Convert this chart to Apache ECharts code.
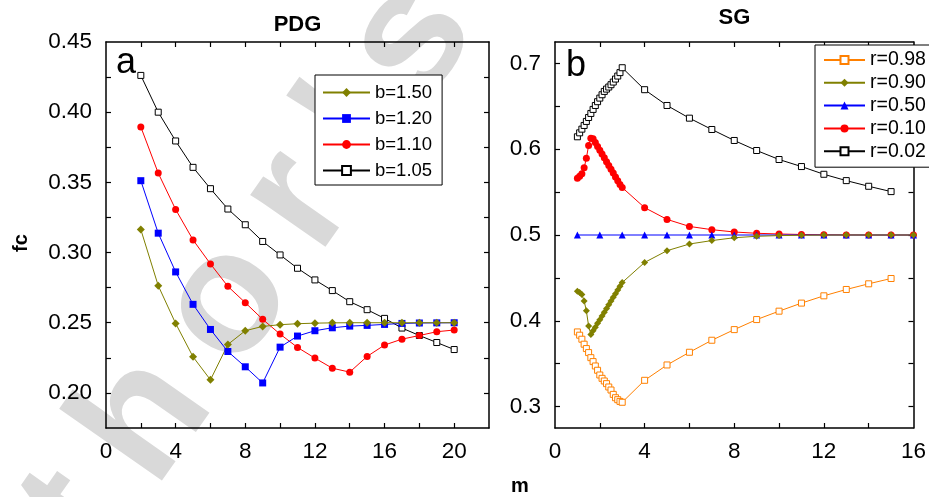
<!DOCTYPE html>
<html>
<head>
<meta charset="utf-8">
<script src="https://cdn.jsdelivr.net/npm/echarts@6/dist/echarts.min.js"></script>
<style>
  html, body { margin: 0; padding: 0; background: #fff; }
  #chart { width: 929px; height: 497px; }
</style>
</head>
<body>
<div id="chart"></div>
<script>
// ---- Panel a: PDG ----
const mPDG = [2, 3, 4, 5, 6, 7, 8, 9, 10, 11, 12, 13, 14, 15, 16, 17, 18, 19, 20];
const pdg_b150 = [0.3164, 0.2764, 0.2495, 0.2257, 0.2093, 0.2345, 0.2443, 0.2474, 0.2486, 0.2493, 0.2497, 0.2499, 0.2500, 0.2500, 0.2500, 0.2500, 0.2500, 0.2500, 0.2500];
const pdg_b120 = [0.3512, 0.3138, 0.2862, 0.2631, 0.2452, 0.2295, 0.2186, 0.2071, 0.2326, 0.2405, 0.2443, 0.2464, 0.2476, 0.2481, 0.2488, 0.2495, 0.2498, 0.2499, 0.2500];
const pdg_b110 = [0.3895, 0.3566, 0.3307, 0.3090, 0.2919, 0.2759, 0.2643, 0.2524, 0.2419, 0.2324, 0.2248, 0.2176, 0.2148, 0.2260, 0.2341, 0.2383, 0.2409, 0.2436, 0.2448];
const pdg_b105 = [0.4262, 0.4000, 0.3795, 0.3607, 0.3455, 0.3310, 0.3198, 0.3079, 0.2983, 0.2888, 0.2805, 0.2729, 0.2650, 0.2593, 0.2531, 0.2462, 0.2409, 0.2359, 0.2309];

// ---- Panel b: SG ----
const mSG = [1.0, 1.1, 1.2, 1.3, 1.4, 1.5, 1.6, 1.7, 1.8, 1.9, 2.0, 2.1, 2.2, 2.3, 2.4, 2.5, 2.6, 2.7, 2.8, 2.9, 3.0,
             4, 5, 6, 7, 8, 9, 10, 11, 12, 13, 14, 15, 16];
const mSGint = [1, 2, 3, 4, 5, 6, 7, 8, 9, 10, 11, 12, 13, 14, 15, 16];
const sg_r098 = [0.3870, 0.3832, 0.3785, 0.3727, 0.3676, 0.3629, 0.3570, 0.3524, 0.3473, 0.3423, 0.3368, 0.3329, 0.3298, 0.3267, 0.3228, 0.3193, 0.3142, 0.3103, 0.3080, 0.3060, 0.3050,
                 0.3306, 0.3485, 0.3633, 0.3773, 0.3897, 0.4014, 0.4112, 0.4206, 0.4291, 0.4365, 0.4431, 0.4493];
const sg_r090 = [0.4345, 0.4330, 0.4306, 0.4232, 0.4116, 0.3940, 0.3840, 0.3883, 0.3926, 0.3970, 0.4013, 0.4056, 0.4100, 0.4143, 0.4186, 0.4230, 0.4273, 0.4316, 0.4360, 0.4403, 0.4446,
                 0.4680, 0.4817, 0.4895, 0.4935, 0.4968, 0.4985, 0.4993, 0.4997, 0.4999, 0.5000, 0.5000, 0.5000, 0.5000];
const sg_r050 = [0.5, 0.5, 0.5, 0.5, 0.5, 0.5, 0.5, 0.5, 0.5, 0.5, 0.5, 0.5, 0.5, 0.5, 0.5, 0.5];
const sg_r010 = [0.5661, 0.5685, 0.5713, 0.5783, 0.5895, 0.6043, 0.6129, 0.6121, 0.6077, 0.6033, 0.5988, 0.5944, 0.5900, 0.5855, 0.5811, 0.5766, 0.5722, 0.5677, 0.5633, 0.5589, 0.5553,
                 0.5319, 0.5182, 0.5100, 0.5062, 0.5035, 0.5020, 0.5012, 0.5006, 0.5003, 0.5001, 0.5000, 0.5000, 0.5000];
const sg_r002 = [0.6145, 0.6191, 0.6234, 0.6277, 0.6324, 0.6370, 0.6417, 0.6464, 0.6510, 0.6554, 0.6596, 0.6635, 0.6674, 0.6701, 0.6725, 0.6752, 0.6783, 0.6818, 0.6853, 0.6893, 0.6950,
                 0.6694, 0.6510, 0.6362, 0.6230, 0.6102, 0.5985, 0.5880, 0.5798, 0.5708, 0.5634, 0.5568, 0.5506];

// ---- Axis ticks and labels ----
const xTicksPDG = [2, 4, 6, 8, 10, 12, 14, 16, 18, 20];
const xLabelsPDG = [0, 4, 8, 12, 16, 20];
const yTicksPDG = [0.2, 0.225, 0.25, 0.275, 0.3, 0.325, 0.35, 0.375, 0.4, 0.425];
const yLabelsPDG = [0.2, 0.25, 0.3, 0.35, 0.4, 0.45];
const xTicksSG = [2, 4, 6, 8, 10, 12, 14];
const xLabelsSG = [0, 4, 8, 12, 16];
const yTicksSG = [0.3, 0.35, 0.4, 0.45, 0.5, 0.55, 0.6, 0.65, 0.7];
const yLabelsSG = [0.3, 0.4, 0.5, 0.6, 0.7];

const FONT = '"Liberation Sans", Arial, Helvetica, sans-serif';

function pairs(xs, ys) { return ys.map((y, i) => [xs[i], y]); }

function axis(kind, grid, pos, min, max, ticks, labels, fmt) {
  return {
    type: 'value', gridIndex: grid, position: pos, min: min, max: max,
    axisLine: { show: true, onZero: false, lineStyle: { color: '#000', width: 1.5 } },
    axisTick: { show: true, inside: true, length: 5, customValues: ticks, lineStyle: { color: '#000', width: 1.2 } },
    axisLabel: labels ? {
      show: true, customValues: labels, formatter: fmt, color: '#000',
      fontSize: 22.5, fontFamily: FONT, margin: kind === 'x' ? 12 : 14
    } : { show: false },
    splitLine: { show: false }
  };
}

function lineSeries(name, xi, yi, data, color, symbol, size, fill) {
  return {
    name: name, type: 'line', xAxisIndex: xi, yAxisIndex: yi, data: data,
    symbol: symbol, symbolSize: size, showSymbol: true,
    lineStyle: { color: color, width: 1 },
    itemStyle: fill ? { color: fill, borderColor: color, borderWidth: 1 } : { color: color },
    emphasis: { disabled: true }, animation: false, z: 3
  };
}

// Diagonal grey stamp behind the plots, laid out letter by letter with wide tracking.
function stampGlyphs(text, fontPx, tracking, anchorIndex, anchorX, anchorY, angleDeg) {
  const font = 'bold ' + fontPx + 'px ' + FONT;
  const ctx = document.createElement('canvas').getContext('2d');
  ctx.font = font;
  const a = angleDeg * Math.PI / 180;
  const dx = Math.cos(a), dy = -Math.sin(a);
  const centers = [];
  let s = 0;
  for (const ch of text) {
    const w = ctx.measureText(ch).width;
    centers.push(s + w / 2);
    s += w + tracking;
  }
  const ref = centers[anchorIndex];
  const out = [];
  Array.from(text).forEach((ch, i) => {
    if (ch === ' ') return;
    const d = centers[i] - ref;
    out.push({
      type: 'text', z: 0, silent: true,
      x: anchorX + d * dx, y: anchorY + d * dy, rotation: a,
      style: { text: ch, font: font, fill: '#d9d9d9', align: 'center', verticalAlign: 'middle' }
    });
  });
  return out;
}

const chart = echarts.init(document.getElementById('chart'), null, { renderer: 'canvas' });

chart.setOption({
  backgroundColor: '#fff',
  animation: false,
  grid: [
    { left: 106, top: 42, width: 383, height: 386 },
    { left: 555, top: 42, width: 359, height: 386 }
  ],
  xAxis: [
    axis('x', 0, 'bottom', 0, 22, xTicksPDG, xLabelsPDG, v => String(v)),
    axis('x', 0, 'top', 0, 22, xTicksPDG, null),
    axis('x', 1, 'bottom', 0, 16, xTicksSG, xLabelsSG, v => String(v)),
    axis('x', 1, 'top', 0, 16, xTicksSG, null)
  ],
  yAxis: [
    axis('y', 0, 'left', 0.175, 0.45, yTicksPDG, yLabelsPDG, v => v.toFixed(2)),
    axis('y', 0, 'right', 0.175, 0.45, yTicksPDG, null),
    axis('y', 1, 'left', 0.275, 0.725, yTicksSG, yLabelsSG, v => v.toFixed(1)),
    axis('y', 1, 'right', 0.275, 0.725, yTicksSG, null)
  ],
  legend: [
    {
      data: ['b=1.50', 'b=1.20', 'b=1.10', 'b=1.05'],
      orient: 'vertical', left: 315, top: 75,
      padding: [8, 10, 5, 7], itemGap: 7, itemWidth: 47, itemHeight: 11,
      borderColor: '#000', borderWidth: 1, backgroundColor: '#fff',
      selectedMode: false, z: 8,
      textStyle: { fontSize: 18.5, lineHeight: 18.5, color: '#000', fontFamily: FONT }
    },
    {
      data: ['r=0.98', 'r=0.90', 'r=0.50', 'r=0.10', 'r=0.02'],
      orient: 'vertical', left: 815, top: 45,
      padding: [5, 10, 6, 8], itemGap: 2.8, itemWidth: 41, itemHeight: 10,
      borderColor: '#000', borderWidth: 1, backgroundColor: '#fff',
      selectedMode: false, z: 8,
      textStyle: { fontSize: 19.5, lineHeight: 19.5, color: '#000', fontFamily: FONT }
    }
  ],
  graphic: stampGlyphs("Author's personal copy", 173, 37, 4, 228, 303, 55).concat([
    { type: 'text', z: 10, x: 297.5, y: 25, style: { text: 'PDG', font: 'bold 22px ' + FONT, fill: '#000', align: 'center', verticalAlign: 'middle' } },
    { type: 'text', z: 10, x: 734.5, y: 18, style: { text: 'SG', font: 'bold 22px ' + FONT, fill: '#000', align: 'center', verticalAlign: 'middle' } },
    { type: 'text', z: 10, x: 21, y: 243, rotation: Math.PI / 2, style: { text: 'fc', font: 'bold 20px ' + FONT, fill: '#000', align: 'center', verticalAlign: 'middle' } },
    { type: 'text', z: 10, x: 520, y: 486, style: { text: 'm', font: 'bold 20px ' + FONT, fill: '#000', align: 'center', verticalAlign: 'middle' } },
    { type: 'text', z: 10, x: 116, y: 63, style: { text: 'a', font: '36px ' + FONT, fill: '#000', align: 'left', verticalAlign: 'middle' } },
    { type: 'text', z: 10, x: 566, y: 66, style: { text: 'b', font: '36px ' + FONT, fill: '#000', align: 'left', verticalAlign: 'middle' } }
  ]),
  series: [
    // PDG panel (drawn so that b=1.50 sits on top)
    lineSeries('b=1.05', 0, 0, pairs(mPDG, pdg_b105), '#000000', 'rect', 6, '#ffffff'),
    lineSeries('b=1.10', 0, 0, pairs(mPDG, pdg_b110), '#ff0000', 'circle', 7),
    lineSeries('b=1.20', 0, 0, pairs(mPDG, pdg_b120), '#0000ff', 'rect', 7),
    lineSeries('b=1.50', 0, 0, pairs(mPDG, pdg_b150), '#808000', 'diamond', 8),
    // SG panel
    lineSeries('r=0.02', 2, 2, pairs(mSG, sg_r002), '#000000', 'rect', 6, '#ffffff'),
    lineSeries('r=0.10', 2, 2, pairs(mSG, sg_r010), '#ff0000', 'circle', 7),
    lineSeries('r=0.50', 2, 2, pairs(mSGint, sg_r050), '#0000ff', 'triangle', 7),
    lineSeries('r=0.90', 2, 2, pairs(mSG, sg_r090), '#808000', 'diamond', 7),
    lineSeries('r=0.98', 2, 2, pairs(mSG, sg_r098), '#ff8000', 'rect', 6, '#ffffff')
  ]
});
</script>
</body>
</html>
